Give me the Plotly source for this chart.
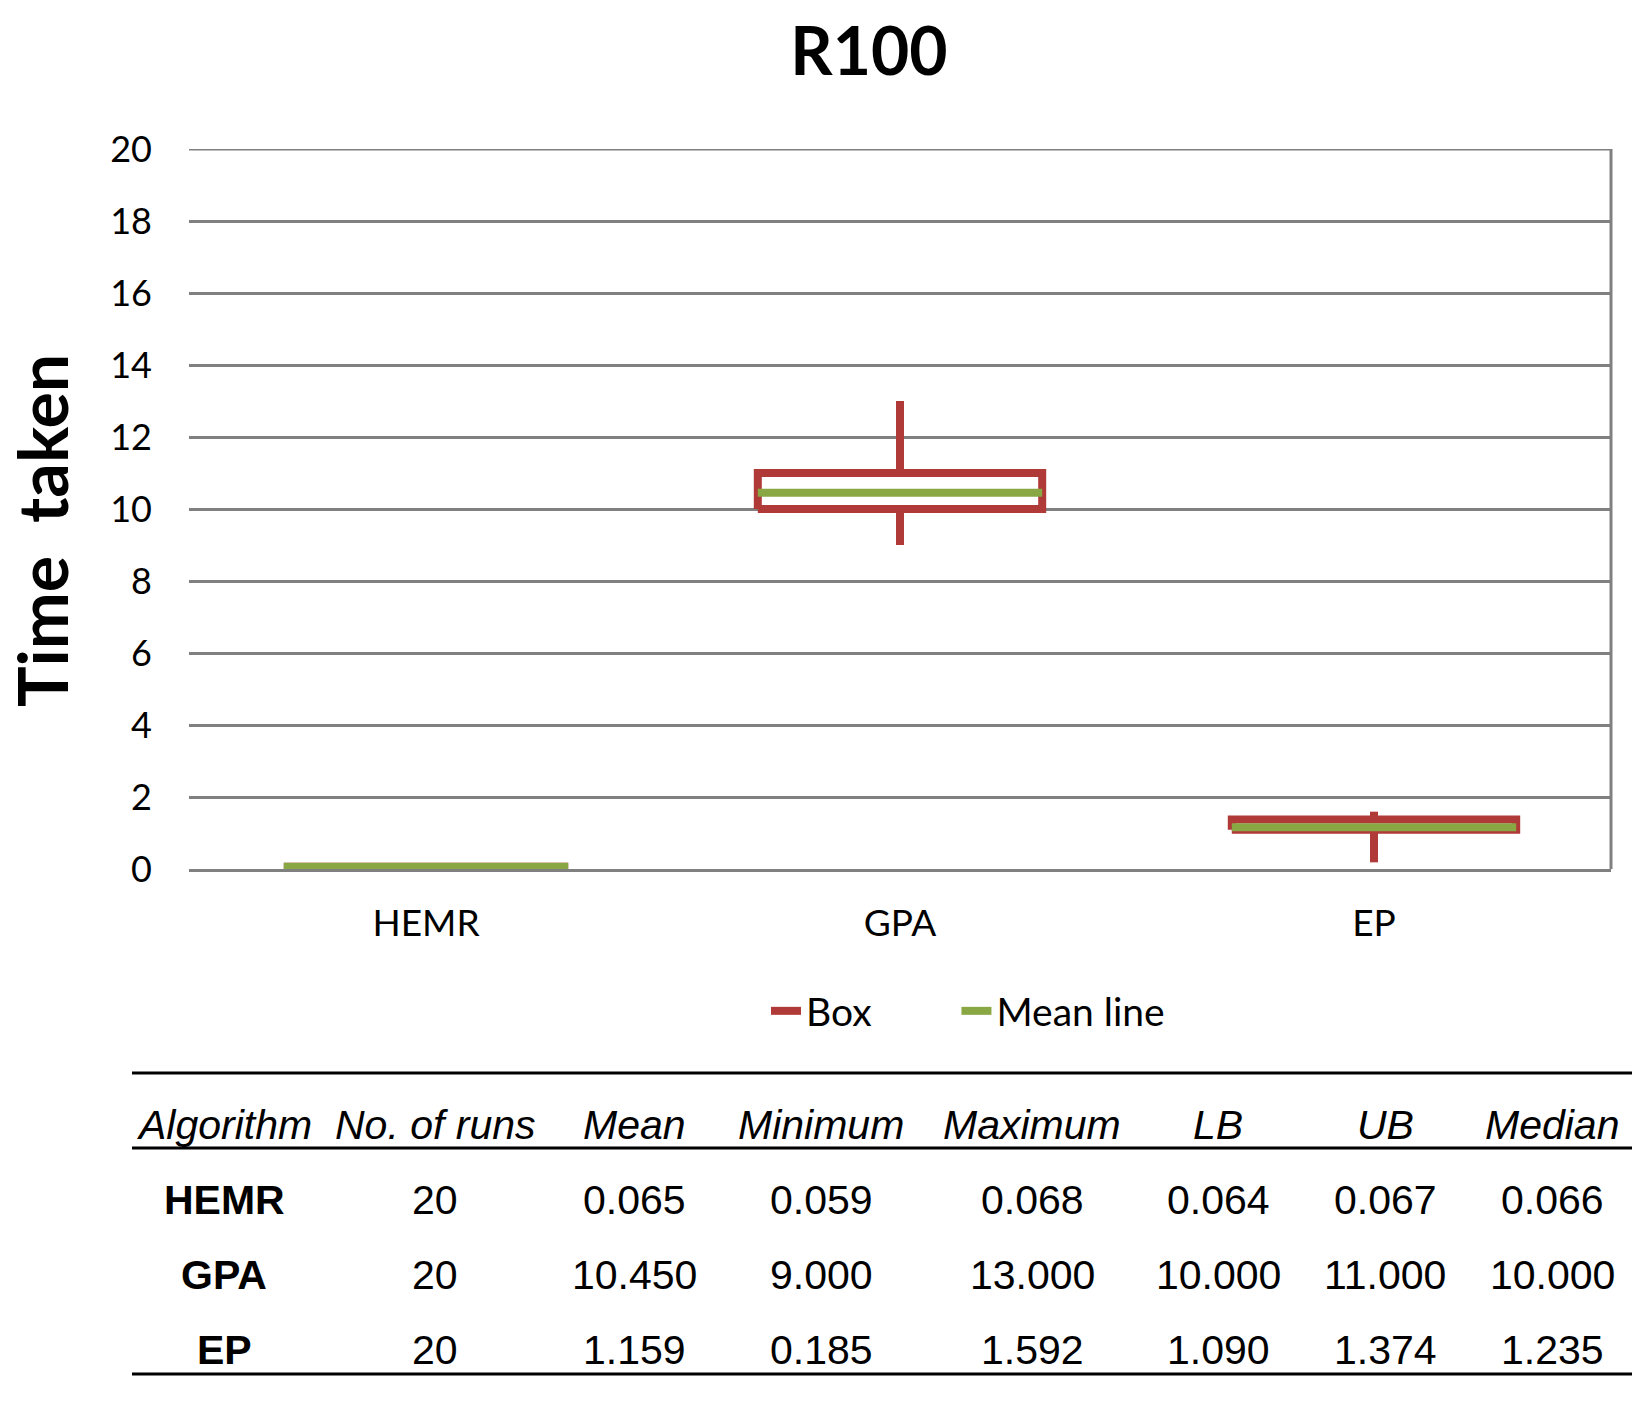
import plotly.graph_objects as go

# ---------------- data ----------------
algorithms = ["HEMR", "GPA", "EP"]
runs = [20, 20, 20]
mean_vals = [0.065, 10.450, 1.159]
min_vals = [0.059, 9.000, 0.185]
max_vals = [0.068, 13.000, 1.592]
lb_vals = [0.064, 10.000, 1.090]
ub_vals = [0.067, 11.000, 1.374]
median_vals = [0.066, 10.000, 1.235]
y_ticks = [0, 2, 4, 6, 8, 10, 12, 14, 16, 18, 20]
table_headers = ["Algorithm", "No. of runs", "Mean", "Minimum", "Maximum", "LB", "UB", "Median"]
series_names = ["Box", "Mean line"]

# ---------------- layout constants ----------------
W, H = 1632, 1418
L, R, T, B = 189, 1611, 149, 869
RED = "#B03A38"
GREEN = "#89A844"
GRID = "#808080"
HALF = 0.3
NBSP = "\u00a0"

def px2x(px):
    return (px - L) / (R - L)

def px2y(py):
    return (B - py) / (B - T)

# red box path (box + whiskers)
bx, by = [], []
for i in range(len(algorithms)):
    bx += [i - HALF, i + HALF, i + HALF, i - HALF, i - HALF, None,
           i, i, None, i, i, None]
    by += [lb_vals[i], lb_vals[i], ub_vals[i], ub_vals[i], lb_vals[i], None,
           ub_vals[i], max_vals[i], None, lb_vals[i], min_vals[i], None]

mx, my = [], []
for i in range(len(algorithms)):
    mx += [i - HALF, i + HALF, None]
    my += [mean_vals[i], mean_vals[i], None]

fig = go.Figure()
fig.add_trace(go.Scatter(x=bx, y=by, mode="lines", name=series_names[0] + NBSP * 8,
                         line=dict(color=RED, width=8), connectgaps=False,
                         hoverinfo="skip"))
fig.add_trace(go.Scatter(x=mx, y=my, mode="lines", name=series_names[1],
                         line=dict(color=GREEN, width=8), connectgaps=False,
                         hoverinfo="skip"))

CHART_FONT = "Lato, Open Sans, sans-serif"
TABLE_FONT = "Liberation Sans, Arial, sans-serif"

fig.update_layout(
    width=W, height=H, autosize=False,
    margin=dict(l=L, r=W - R, t=T, b=H - B, pad=0),
    paper_bgcolor="white", plot_bgcolor="white",
    font=dict(family=CHART_FONT, color="black"),
    title=dict(text="<b>R100</b>", x=869 / W, xref="container", xanchor="center",
               y=1 - 52 / H, yref="container", yanchor="middle",
               font=dict(size=66, family=CHART_FONT, color="black")),
    xaxis=dict(range=[-0.5, 2.5], tickmode="array", tickvals=list(range(len(algorithms))),
               ticktext=algorithms, showgrid=False, zeroline=False,
               showline=True, linecolor=GRID, linewidth=3,
               tickfont=dict(size=37, family=CHART_FONT), ticks="",
               ticklabelstandoff=20),
    yaxis=dict(range=[0, 20], tickmode="array", tickvals=y_ticks,
               showgrid=True, gridcolor=GRID, gridwidth=3, zeroline=False,
               showline=False, ticks="",
               tickfont=dict(size=36, family=CHART_FONT), ticklabelstandoff=36),
    legend=dict(orientation="h", x=px2x(766), xanchor="left", y=px2y(1011), yanchor="middle",
                font=dict(size=39, family=CHART_FONT),
                bgcolor="rgba(0,0,0,0)"),
    showlegend=True,
    hovermode=False,
)

# top gridline and right border of plot area
fig.add_shape(type="line", xref="paper", yref="y", x0=0, x1=1, y0=y_ticks[-1], y1=y_ticks[-1],
              line=dict(color=GRID, width=3), layer="below")
fig.add_shape(type="line", xref="paper", yref="paper", x0=1, x1=1, y0=0, y1=1,
              line=dict(color=GRID, width=3), layer="below")

# y axis title
fig.add_annotation(text="<b>Time  taken</b>", xref="paper", yref="paper",
                   x=px2x(41), y=px2y(531), textangle=-90, showarrow=False,
                   xanchor="center", yanchor="middle", borderpad=0,
                   font=dict(size=68, family=CHART_FONT, color="black"))

# ---------------- table ----------------
col_x = [224, 435, 634, 821, 1032, 1218, 1385, 1552]
header_y = 1125
row_y = [1200, 1275, 1350]

for j, h in enumerate(table_headers):
    fig.add_annotation(text="<i>" + h + "</i>", xref="paper", yref="paper",
                       x=px2x(col_x[j]), y=px2y(header_y), showarrow=False,
                       xanchor="center", yanchor="middle",
                       font=dict(size=41, family=TABLE_FONT, color="black"))

for i, alg in enumerate(algorithms):
    cells = ["<b>" + alg + "</b>", str(runs[i]),
             f"{mean_vals[i]:.3f}", f"{min_vals[i]:.3f}", f"{max_vals[i]:.3f}",
             f"{lb_vals[i]:.3f}", f"{ub_vals[i]:.3f}", f"{median_vals[i]:.3f}"]
    for j, c in enumerate(cells):
        fig.add_annotation(text=c, xref="paper", yref="paper",
                           x=px2x(col_x[j]), y=px2y(row_y[i]), showarrow=False,
                           xanchor="center", yanchor="middle",
                           font=dict(size=41, family=TABLE_FONT, color="black"))

for ly in [1073, 1148, 1374]:
    fig.add_shape(type="line", xref="paper", yref="paper",
                  x0=px2x(132), x1=px2x(1632), y0=px2y(ly), y1=px2y(ly),
                  line=dict(color="black", width=3))

fig.write_html("out.html", config={"displayModeBar": False},
               post_script="document.body.style.margin='0';")
